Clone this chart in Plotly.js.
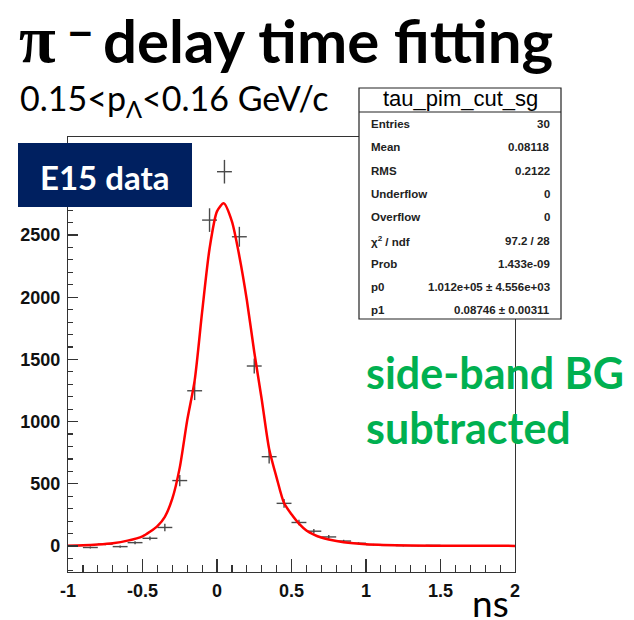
<!DOCTYPE html>
<html>
<head>
<meta charset="utf-8">
<script src="https://cdn.plot.ly/plotly-3.0.1.min.js"></script>
<style>
html,body{margin:0;padding:0;background:#fff;}
#chart{width:634px;height:620px;}
</style>
</head>
<body>
<div id="chart"></div>
<script>
// ---- data ----
const binCenters = [-0.95,-0.85,-0.75,-0.65,-0.55,-0.45,-0.35,-0.25,-0.15,-0.05,
                    0.05,0.15,0.25,0.35,0.45,0.55,0.65,0.75,0.85,0.95,
                    1.05,1.15,1.25,1.35,1.45,1.55,1.65,1.75,1.85,1.95];
const binValues  = [3,-12,15,-5,27,62,149,526,1248,2620,
                    3009,2486,1447,718,343,189,119,73,40,22,
                    11,5,3,2,5,1,1,0,0,0];
const binErrors  = [5,8,8,10,12,15,30,45,75,95,
                    95,80,60,55,35,22,18,15,10,8,
                    6,4,4,4,4,4,4,4,4,4];
const binHalfWidth = [0.05,0.05,0.05,0.05,0.05,0.05,0.05,0.05,0.05,0.05,
                      0.05,0.05,0.05,0.05,0.05,0.05,0.05,0.05,0.05,0.05,
                      0.05,0.05,0.05,0.05,0.05,0.05,0.05,0.05,0.05,0.05];

const fitX = [-1.0,-0.9,-0.8,-0.7,-0.6,-0.5,-0.45,-0.4,-0.35,-0.3,-0.25,-0.2,-0.15,-0.1,-0.05,0.0,0.045,
              0.1,0.15,0.2,0.25,0.3,0.35,0.4,0.45,0.5,0.55,0.6,0.65,0.7,0.75,0.85,1.0,1.3,1.6,2.0];
const fitY = [3,6,12,22,43,78,115,160,235,380,630,1010,1330,1880,2390,2690,2755,
              2610,2330,1980,1560,1180,780,550,345,255,180,125,92,68,52,30,14,4,2,1];

const xTickVals = [-1,-0.5,0,0.5,1,1.5,2];
const xTickText = ['-1','-0.5','0','0.5','1','1.5','2'];
const yTickVals = [0,500,1000,1500,2000,2500];
const yTickText = ['0','500','1000','1500','2000','2500'];

const statTitle = 'tau_pim_cut_sg';
const statLabels = ['Entries','Mean','RMS','Underflow','Overflow','χ<sup>2</sup> / ndf','Prob','p0','p1'];
const statValues = ['30','0.08118','0.2122','0','0','97.2 / 28','1.433e-09','1.012e+05 ± 4.556e+03','0.08746 ± 0.00311'];

const titleParts = ['π', '−', 'delay time fitting'];
const subText = '0.15&lt;p<sub>Λ</sub>&lt;0.16 GeV/c';
const tagText = 'E15 data';
const noteLines = ['side-band BG','subtracted'];
const unitText = 'ns';

// ---- layout helpers (pixel -> paper) ----
const L=68, R=515, T=137, B=572;
const px = x => (x-L)/(R-L);
const py = y => (B-y)/(B-T);

const traces = [
  {
    x: binCenters, y: binValues, type:'scatter', mode:'markers',
    marker:{size:1, color:'#4a4a4a'},
    error_y:{type:'data', array:binErrors, visible:true, thickness:1.4, width:0, color:'#4a4a4a'},
    error_x:{type:'data', array:binHalfWidth, visible:true, thickness:1.4, width:0, color:'#4a4a4a'},
    hoverinfo:'skip', showlegend:false, cliponaxis:false
  },
  {
    x: fitX, y: fitY, type:'scatter', mode:'lines',
    line:{color:'#ff0000', width:2.5, shape:'spline', smoothing:0.7},
    hoverinfo:'skip', showlegend:false
  }
];

const axisFont = {family:'Liberation Sans, Arial, sans-serif', size:18, color:'#111', weight:'bold'};

const shapes = [
  {type:'rect', xref:'paper', yref:'paper', x0:px(359), x1:px(561), y0:py(88), y1:py(319),
   line:{color:'#222', width:1.2}, fillcolor:'#fff', layer:'above'},
  {type:'line', xref:'paper', yref:'paper', x0:px(359), x1:px(561), y0:py(112), y1:py(112),
   line:{color:'#222', width:1.2}, layer:'above'},
  {type:'rect', xref:'paper', yref:'paper', x0:px(18), x1:px(192), y0:py(143), y1:py(207),
   line:{width:0}, fillcolor:'#002060', layer:'above'}
];

const annotations = [];
function ann(text, x, y, opts){
  annotations.push(Object.assign({text:text, xref:'paper', yref:'paper', x:px(x), y:py(y),
    showarrow:false, xanchor:'left', yanchor:'middle'}, opts||{}));
}
ann(titleParts[0], 17, 39, {font:{family:'Liberation Serif, serif', size:67, color:'#000', weight:'bold'}});
ann(titleParts[1], 80, 31, {xanchor:'center', font:{family:'Lato, sans-serif', size:46, color:'#000', weight:'bold'}});
ann(titleParts[2], 101, 40, {font:{family:'Lato, sans-serif', size:60, color:'#000', weight:'bold'}});
ann(subText, 18, 100, {font:{family:'Lato, sans-serif', size:34, color:'#000'}});
ann(tagText, 105, 177, {xanchor:'center', font:{family:'Lato, sans-serif', size:33, color:'#fff', weight:'bold'}});
ann(noteLines[0], 364, 372, {font:{family:'Lato, sans-serif', size:43, color:'#00b050', weight:'bold'}});
ann(noteLines[1], 364, 427, {font:{family:'Lato, sans-serif', size:43, color:'#00b050', weight:'bold'}});
ann(unitText, 470, 602, {font:{family:'Lato, sans-serif', size:37, color:'#000'}});
ann(statTitle, 460, 99, {xanchor:'center', font:{family:'Liberation Sans, Arial, sans-serif', size:22, color:'#000'}});
const rowY0 = 124, rowDy = 23.3;
statLabels.forEach((lab,i)=>{
  ann(lab, 369, rowY0 + i*rowDy, {font:{family:'Liberation Sans, Arial, sans-serif', size:11.5, color:'#222', weight:'bold'}});
  ann(statValues[i], 552, rowY0 + i*rowDy, {xanchor:'right', font:{family:'Liberation Sans, Arial, sans-serif', size:11.5, color:'#222', weight:'bold'}});
});

const layout = {
  width:634, height:620,
  margin:{l:L, r:634-R, t:T, b:620-B, pad:0},
  paper_bgcolor:'#fff', plot_bgcolor:'#fff',
  showlegend:false,
  xaxis:{
    range:[-1,2], tickvals:xTickVals, ticktext:xTickText,
    ticks:'inside', ticklen:13, tickwidth:1.2, tickcolor:'#333',
    minor:{dtick:0.1, tick0:0, ticks:'inside', ticklen:7, tickwidth:1.2, tickcolor:'#333', showgrid:false},
    showline:true, linecolor:'#333', linewidth:1.2, mirror:true,
    showgrid:false, zeroline:false, tickfont:axisFont, ticklabelstandoff:2
  },
  yaxis:{
    range:[-209,3288], tickvals:yTickVals, ticktext:yTickText,
    ticks:'inside', ticklen:10, tickwidth:1.2, tickcolor:'#333',
    minor:{dtick:100, tick0:0, ticks:'inside', ticklen:5, tickwidth:1.2, tickcolor:'#333', showgrid:false},
    showline:true, linecolor:'#333', linewidth:1.2, mirror:true,
    showgrid:false, zeroline:false, tickfont:axisFont, ticklabelstandoff:3
  },
  shapes:shapes,
  annotations:annotations
};

Plotly.newPlot('chart', traces, layout, {staticPlot:true, displayModeBar:false});
</script>
</body>
</html>
